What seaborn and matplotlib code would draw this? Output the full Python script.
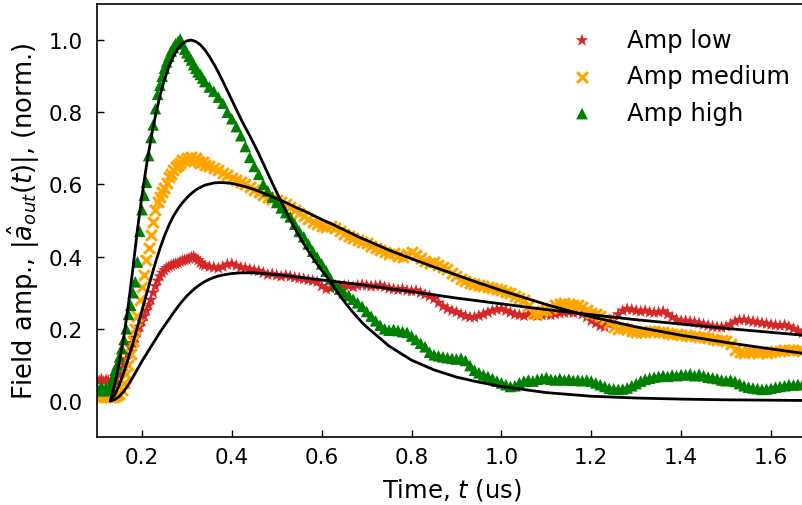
import numpy as np
import pandas as pd
import matplotlib
matplotlib.use("Agg")
import matplotlib.pyplot as plt
import seaborn as sns

# ---- time grids (us) ----
t_rise = np.round(np.arange(0.100, 0.3351, 0.005), 3)   # 48 samples
t_tail = np.round(np.arange(0.34, 1.6701, 0.01), 2)     # 134 samples

# ---- measured data (normalized field amplitude) ----
low_rise = [0.058, 0.055, 0.060, 0.054, 0.058, 0.056, 0.052, 0.048,
            0.045, 0.050, 0.065, 0.080, 0.100, 0.115, 0.135, 0.148,
            0.160, 0.175, 0.190, 0.205, 0.220, 0.235, 0.250, 0.265,
            0.280, 0.300, 0.318, 0.333, 0.345, 0.355, 0.362, 0.368,
            0.372, 0.375, 0.378, 0.380, 0.382, 0.386, 0.388, 0.390,
            0.392, 0.395, 0.398, 0.400, 0.395, 0.390, 0.383, 0.378]
low_tail = [0.375, 0.372, 0.370, 0.368, 0.372, 0.378, 0.380, 0.375, 0.370, 0.368,
            0.365, 0.362, 0.360, 0.355, 0.350, 0.352, 0.348, 0.345, 0.348, 0.345,
            0.342, 0.340, 0.338, 0.335, 0.333, 0.330, 0.318, 0.310, 0.312, 0.315,
            0.318, 0.320, 0.319, 0.316, 0.320, 0.322, 0.320, 0.318, 0.319, 0.320,
            0.316, 0.312, 0.310, 0.308, 0.310, 0.306, 0.304, 0.306, 0.300, 0.295,
            0.290, 0.283, 0.272, 0.262, 0.255, 0.250, 0.246, 0.240, 0.235, 0.232,
            0.232, 0.236, 0.240, 0.245, 0.250, 0.253, 0.255, 0.250, 0.245, 0.240,
            0.238, 0.236, 0.240, 0.238, 0.236, 0.238, 0.240, 0.238, 0.241, 0.243,
            0.245, 0.246, 0.244, 0.246, 0.240, 0.232, 0.222, 0.215, 0.208, 0.205,
            0.212, 0.225, 0.240, 0.250, 0.255, 0.253, 0.250, 0.248, 0.250, 0.246,
            0.245, 0.246, 0.248, 0.240, 0.232, 0.225, 0.222, 0.222, 0.220, 0.218,
            0.215, 0.212, 0.209, 0.206, 0.205, 0.204, 0.206, 0.212, 0.220, 0.224,
            0.225, 0.222, 0.220, 0.218, 0.216, 0.214, 0.212, 0.210, 0.209, 0.210,
            0.206, 0.200, 0.195, 0.188]

med_rise = [0.012, 0.015, 0.010, 0.013, 0.011, 0.014, 0.010, 0.012,
            0.013, 0.016, 0.020, 0.030, 0.050, 0.075, 0.100, 0.130,
            0.165, 0.200, 0.235, 0.280, 0.315, 0.350, 0.390, 0.425,
            0.460, 0.495, 0.530, 0.550, 0.565, 0.580, 0.590, 0.605,
            0.620, 0.628, 0.640, 0.648, 0.655, 0.660, 0.668, 0.665,
            0.672, 0.670, 0.675, 0.668, 0.672, 0.665, 0.660, 0.662]
med_tail = [0.655, 0.650, 0.645, 0.640, 0.632, 0.625, 0.618, 0.612, 0.608, 0.600,
            0.592, 0.585, 0.578, 0.572, 0.566, 0.560, 0.556, 0.552, 0.545, 0.538,
            0.530, 0.522, 0.512, 0.505, 0.495, 0.490, 0.484, 0.481, 0.485, 0.478,
            0.470, 0.462, 0.458, 0.452, 0.446, 0.440, 0.438, 0.430, 0.425, 0.418,
            0.412, 0.408, 0.410, 0.403, 0.400, 0.408, 0.412, 0.405, 0.395, 0.388,
            0.382, 0.385, 0.378, 0.372, 0.365, 0.355, 0.345, 0.338, 0.332, 0.328,
            0.325, 0.320, 0.318, 0.315, 0.312, 0.310, 0.308, 0.302, 0.298, 0.292,
            0.285, 0.280, 0.262, 0.245, 0.242, 0.248, 0.252, 0.258, 0.265, 0.268,
            0.270, 0.268, 0.265, 0.266, 0.260, 0.252, 0.245, 0.240, 0.236, 0.228,
            0.215, 0.205, 0.200, 0.202, 0.198, 0.195, 0.192, 0.190, 0.192, 0.194,
            0.195, 0.192, 0.190, 0.188, 0.185, 0.186, 0.184, 0.182, 0.181, 0.180,
            0.178, 0.176, 0.175, 0.172, 0.170, 0.168, 0.167, 0.158, 0.142, 0.135,
            0.134, 0.136, 0.135, 0.133, 0.135, 0.134, 0.136, 0.137, 0.138, 0.140,
            0.142, 0.141, 0.140, 0.138]

high_rise = [0.035, 0.030, 0.038, 0.028, 0.035, 0.030, 0.040, 0.062,
             0.085, 0.100, 0.122, 0.145, 0.170, 0.200, 0.240, 0.265,
             0.300, 0.330, 0.385, 0.470, 0.530, 0.570, 0.606, 0.680,
             0.730, 0.765, 0.810, 0.850, 0.875, 0.900, 0.922, 0.940,
             0.955, 0.970, 0.980, 0.990, 0.995, 1.003, 0.990, 0.975,
             0.965, 0.955, 0.945, 0.932, 0.922, 0.912, 0.905, 0.895]
high_tail = [0.885, 0.870, 0.858, 0.842, 0.825, 0.800, 0.782, 0.760, 0.735, 0.705,
             0.675, 0.650, 0.628, 0.600, 0.582, 0.565, 0.550, 0.535, 0.522, 0.510,
             0.490, 0.470, 0.455, 0.435, 0.415, 0.398, 0.380, 0.360, 0.338, 0.322,
             0.310, 0.300, 0.292, 0.282, 0.272, 0.262, 0.248, 0.235, 0.222, 0.210,
             0.200, 0.196, 0.198, 0.195, 0.192, 0.190, 0.180, 0.170, 0.160, 0.150,
             0.135, 0.128, 0.125, 0.122, 0.120, 0.118, 0.116, 0.118, 0.112, 0.098,
             0.085, 0.078, 0.072, 0.068, 0.062, 0.055, 0.050, 0.045, 0.040, 0.042,
             0.050, 0.055, 0.058, 0.055, 0.060, 0.062, 0.065, 0.060, 0.058, 0.062,
             0.058, 0.060, 0.057, 0.058, 0.056, 0.058, 0.055, 0.050, 0.045, 0.040,
             0.035, 0.033, 0.032, 0.033, 0.036, 0.042, 0.048, 0.055, 0.060, 0.063,
             0.066, 0.068, 0.070, 0.068, 0.072, 0.070, 0.073, 0.072, 0.075, 0.070,
             0.074, 0.070, 0.066, 0.064, 0.062, 0.058, 0.056, 0.058, 0.054, 0.048,
             0.042, 0.038, 0.036, 0.034, 0.032, 0.033, 0.035, 0.038, 0.040, 0.042,
             0.045, 0.044, 0.046, 0.045]

# ---- fitted model curves ----
fit_t_near = np.round(np.arange(0.13, 0.7001, 0.01), 2)   # 58 samples
fit_t_far = [0.75, 0.80, 0.85, 0.90, 0.95, 1.00, 1.10, 1.20, 1.30, 1.40, 1.50, 1.60, 1.70]

fit_low = [0.000, 0.004, 0.013, 0.027, 0.045, 0.066, 0.088, 0.110, 0.130, 0.150,
           0.170, 0.190, 0.208, 0.226, 0.244, 0.261, 0.277, 0.291, 0.303, 0.314,
           0.323, 0.331, 0.337, 0.342, 0.346, 0.349, 0.351, 0.353, 0.354, 0.355,
           0.355, 0.355, 0.355, 0.354, 0.353, 0.352, 0.351, 0.350, 0.349, 0.347,
           0.346, 0.344, 0.343, 0.341, 0.340, 0.338, 0.337, 0.335, 0.334, 0.332,
           0.331, 0.329, 0.328, 0.326, 0.325, 0.323, 0.322, 0.320,
           0.311, 0.303, 0.294, 0.285, 0.277, 0.269, 0.253, 0.239, 0.225, 0.213,
           0.201, 0.190, 0.179]
fit_med = [0.000, 0.018, 0.045, 0.080, 0.120, 0.160, 0.205, 0.250, 0.295, 0.340,
           0.383, 0.422, 0.457, 0.487, 0.512, 0.532, 0.549, 0.563, 0.575, 0.585,
           0.592, 0.598, 0.601, 0.604, 0.605, 0.605, 0.604, 0.603, 0.600, 0.597,
           0.594, 0.590, 0.586, 0.581, 0.576, 0.571, 0.566, 0.561, 0.555, 0.550,
           0.544, 0.538, 0.532, 0.527, 0.521, 0.515, 0.509, 0.503, 0.497, 0.492,
           0.486, 0.480, 0.474, 0.468, 0.462, 0.456, 0.450, 0.445,
           0.418, 0.394, 0.371, 0.349, 0.327, 0.306, 0.267, 0.233, 0.205, 0.182,
           0.162, 0.144, 0.127]
fit_high = [0.000, 0.050, 0.110, 0.180, 0.268, 0.368, 0.475, 0.568, 0.652, 0.726,
            0.790, 0.845, 0.890, 0.927, 0.955, 0.976, 0.990, 0.998, 1.000, 0.996,
            0.987, 0.973, 0.955, 0.934, 0.911, 0.886, 0.860, 0.834, 0.808, 0.782,
            0.758, 0.735, 0.710, 0.685, 0.658, 0.631, 0.604, 0.578, 0.552, 0.527,
            0.502, 0.479, 0.457, 0.436, 0.416, 0.397, 0.379, 0.362, 0.346, 0.330,
            0.311, 0.293, 0.276, 0.260, 0.245, 0.231, 0.217, 0.205,
            0.152, 0.113, 0.086, 0.066, 0.052, 0.040, 0.023, 0.013, 0.008, 0.005,
            0.003, 0.002, 0.001]

labels = ["Amp low", "Amp medium", "Amp high"]
colors = ["tab:red", "orange", "green"]
markers = ["*", "x", "^"]

t_all = np.concatenate([t_rise, t_tail])
series = [low_rise + low_tail, med_rise + med_tail, high_rise + high_tail]
for s in series:
    assert len(s) == len(t_all), len(s)
fit_t = np.concatenate([fit_t_near, fit_t_far])
fits = [fit_low, fit_med, fit_high]
for f in fits:
    assert len(f) == len(fit_t), len(f)

sns.set_style("ticks")
plt.rcParams["font.family"] = ["DejaVu Sans"]
plt.rcParams["mathtext.fontset"] = "dejavusans"
for k in ["text.color", "axes.labelcolor", "xtick.color", "ytick.color", "axes.edgecolor"]:
    plt.rcParams[k] = "black"

fig = plt.figure(figsize=(8.03, 5.06), dpi=100)
ax = fig.add_axes([0.1208, 0.1344, 0.8830, 0.8557])

handles = []
for lab, col, mk, vals in zip(labels, colors, markers, series):
    df = pd.DataFrame({"t": t_all, "amp": vals})
    if mk == "x":
        sns.scatterplot(data=df, x="t", y="amp", ax=ax, color=col, marker=mk,
                        s=60, linewidth=2.2, zorder=2)
    else:
        sns.scatterplot(data=df, x="t", y="amp", ax=ax, color=col, marker=mk,
                        s=95 if mk == "*" else 70, linewidth=0, edgecolor="none",
                        zorder=2)
    handles.append(ax.collections[-1])

for fv in fits:
    dff = pd.DataFrame({"t": fit_t, "amp": fv})
    sns.lineplot(data=dff, x="t", y="amp", ax=ax, color="black", linewidth=2.0,
                 zorder=3, estimator=None, sort=False)

ax.set_xlim(0.1, 1.678)
ax.set_ylim(-0.1, 1.1)
ax.set_xticks([0.2, 0.4, 0.6, 0.8, 1.0, 1.2, 1.4, 1.6])
ax.set_yticks([0.0, 0.2, 0.4, 0.6, 0.8, 1.0])
ax.tick_params(direction="in", length=5, width=1, labelsize=15.5,
               top=False, right=False, colors="black")
ax.tick_params(axis="x", pad=7)
ax.tick_params(axis="y", pad=10)
for sp in ax.spines.values():
    sp.set_linewidth(1.2)
    sp.set_color("black")

ax.set_xlabel("Time, $t$ (us)", fontsize=17.5, labelpad=7)
ax.set_ylabel(r"Field amp., $|\hat{a}_{out}(t)|$, (norm.)", fontsize=18.5, labelpad=5)

leg = ax.legend(handles, labels, loc="upper right", frameon=False, fontsize=17.5,
                handletextpad=0.87, labelspacing=0.52, scatterpoints=1,
                bbox_to_anchor=(1.007, 0.993), borderaxespad=0.45)

fig.savefig("out.png", dpi=100)
